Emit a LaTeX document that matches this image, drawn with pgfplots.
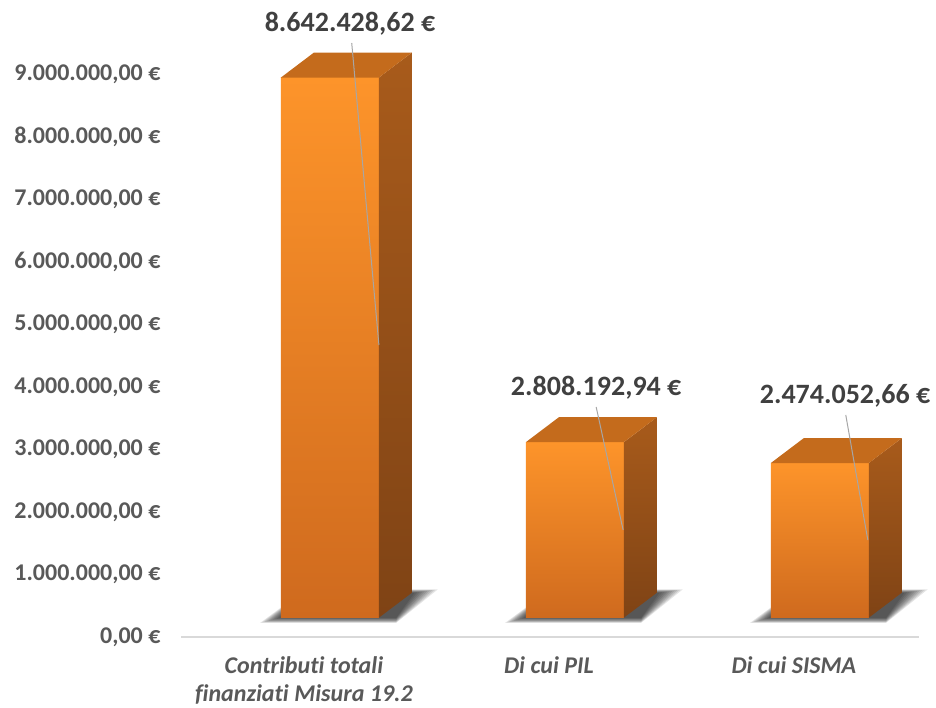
\documentclass[border=0pt]{standalone}
\usepackage{fontspec}
\setmainfont{Carlito}[Ligatures=NoCommon]
\usepackage{pgfplots}
\pgfplotsset{compat=1.18}
\definecolor{frontTop}{HTML}{FD942A}
\definecolor{frontBot}{HTML}{CF6A1E}
\definecolor{sideTop}{HTML}{A85B1B}
\definecolor{sideBot}{HTML}{7F4315}
\definecolor{topFace}{HTML}{C46B1C}
\definecolor{tickgray}{HTML}{595959}
\definecolor{labgray}{HTML}{404040}
\definecolor{leader}{HTML}{A6A6A6}

% geometry of the fake 3D bars (axis units)
\def\hw{0.2}      % half width of front face
\def\dx{0.135}    % depth, x
\def\dy{400000}   % depth, y
\def\base{309000} % front face bottom

% #1 = category position, #2 = value
\newcommand\threedbar[2]{%
  % soft shadow, outer layers first
  \foreach \k in {0,...,9}{%
    \edef\tmp{\noexpand\addplot[draw=none, fill=black, fill opacity=0.1] coordinates {
      (\fpeval{#1-0.285+0.0085*\k},\fpeval{225000+8500*\k})
      (\fpeval{#1+0.27},\fpeval{225000+8500*\k})
      (\fpeval{#1+0.44-0.0105*\k},\fpeval{760000-6000*\k})
      (\fpeval{#1-0.1},\fpeval{760000-6000*\k})} -- cycle;}\tmp
  }%
  % front face
  \edef\tmp{\noexpand\addplot[draw=none, top color=frontTop, bottom color=frontBot] coordinates {
    (\fpeval{#1-\hw},\base) (\fpeval{#1+\hw},\base)
    (\fpeval{#1+\hw},\fpeval{\base+#2}) (\fpeval{#1-\hw},\fpeval{\base+#2})} -- cycle;}\tmp
  % side face
  \edef\tmp{\noexpand\addplot[draw=none, top color=sideTop, bottom color=sideBot] coordinates {
    (\fpeval{#1+\hw},\base) (\fpeval{#1+\hw+\dx},\fpeval{\base+\dy})
    (\fpeval{#1+\hw+\dx},\fpeval{\base+\dy+#2}) (\fpeval{#1+\hw},\fpeval{\base+#2})} -- cycle;}\tmp
  % top face
  \edef\tmp{\noexpand\addplot[draw=none, fill=topFace] coordinates {
    (\fpeval{#1-\hw},\fpeval{\base+#2}) (\fpeval{#1+\hw},\fpeval{\base+#2})
    (\fpeval{#1+\hw+\dx},\fpeval{\base+\dy+#2}) (\fpeval{#1-\hw+\dx},\fpeval{\base+\dy+#2})} -- cycle;}\tmp
}

\begin{document}
\begin{tikzpicture}
\useasboundingbox (0,0) rectangle (936pt,708pt);
\begin{axis}[
    at={(181pt,71pt)}, anchor=south west,
    scale only axis, width=738pt, height=625pt,
    xmin=-0.608, xmax=2.405, ymin=0, ymax=10000000,
    axis x line=bottom, axis y line=left,
    x axis line style={draw=black!15, line width=1.3pt, -},
    y axis line style={draw=none},
    major tick length=0pt,
    clip=false,
    xtick={0,1,2},
    xticklabels={{Contributi totali\\finanziati Misura 19.2},{Di cui PIL},{Di cui SISMA}},
    xticklabel style={font=\bfseries\itshape\fontsize{24}{28}\selectfont, text=tickgray,
        align=center, anchor=north, xshift=-26pt, yshift=-16pt},
    ytick={0,1000000,2000000,3000000,4000000,5000000,6000000,7000000,8000000,9000000},
    yticklabels={{0,00 €},{1.000.000,00 €},{2.000.000,00 €},{3.000.000,00 €},{4.000.000,00 €},
        {5.000.000,00 €},{6.000.000,00 €},{7.000.000,00 €},{8.000.000,00 €},{9.000.000,00 €}},
    yticklabel style={font=\bfseries\fontsize{24}{28}\selectfont, text=tickgray,
        anchor=east, xshift=-17pt},
]
\threedbar{0}{8642428.62}
\threedbar{1}{2808192.94}
\threedbar{2}{2474052.66}

% leader lines
\addplot[leader, line width=1pt] coordinates {(0.089,9504000) (0.2,4672000)};
\addplot[leader, line width=1pt] coordinates {(1.087,3680000) (1.197,1712000)};
\addplot[leader, line width=1pt] coordinates {(2.106,3552000) (2.196,1552000)};

% data labels
\node[anchor=base, font=\bfseries\fontsize{28}{34}\selectfont, text=labgray]
    at (axis cs:0.082,9680000) {8.642.428,62 €};
\node[anchor=base, font=\bfseries\fontsize{28}{34}\selectfont, text=labgray]
    at (axis cs:1.087,3856000) {2.808.192,94 €};
\node[anchor=base, font=\bfseries\fontsize{28}{34}\selectfont, text=labgray]
    at (axis cs:2.103,3728000) {2.474.052,66 €};
\end{axis}
\end{tikzpicture}
\end{document}
